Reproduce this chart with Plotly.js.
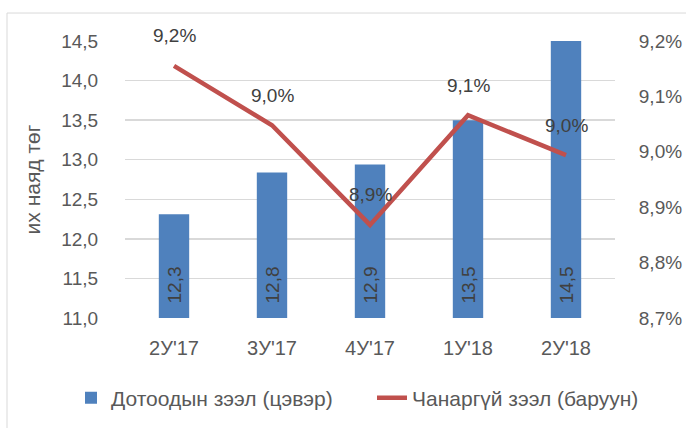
<!DOCTYPE html>
<html>
<head>
<meta charset="utf-8">
<script src="https://cdn.plot.ly/plotly-3.0.1.min.js"></script>
<style>html,body{margin:0;padding:0;background:#fff}#chart{width:686px;height:428px}</style>
</head>
<body>
<div id="chart"></div>
<script>
const categories = ["2У'17", "3У'17", "4У'17", "1У'18", "2У'18"];
const loans = [12.31, 12.84, 12.94, 13.5, 14.5];
const nplRate = [9.155, 9.048, 8.868, 9.066, 8.994];
const leftTicks = [11.0, 11.5, 12.0, 12.5, 13.0, 13.5, 14.0, 14.5];
const rightTicks = [8.7, 8.8, 8.9, 9.0, 9.1, 9.2];
const seriesNames = ["Дотоодын зээл (цэвэр)", "Чанаргүй зээл (баруун)"];
const yTitle = "их наяд төг";

const FONT = '"Liberation Sans", Arial, sans-serif';
const fmt = v => v.toFixed(1).replace('.', ',');

const traces = [
  {
    type: 'bar', x: categories, y: loans, name: seriesNames[0], legend: 'legend',
    marker: {color: '#4F81BD'}, hoverinfo: 'skip'
  },
  {
    type: 'scatter', mode: 'lines', x: categories, y: nplRate, yaxis: 'y2', legend: 'legend2',
    name: seriesNames[1], line: {color: '#C0504D', width: 4.5}, hoverinfo: 'skip'
  }
];

const lineLabels = categories.map((c, i) => ({
  x: c, y: nplRate[i], xref: 'x', yref: 'y2', text: fmt(nplRate[i]) + '%',
  showarrow: false, yshift: 30, font: {family: FONT, size: 19, color: '#404040'}
}));
const barLabels = categories.map((c, i) => ({
  x: c, y: 11, xref: 'x', yref: 'y', text: fmt(loans[i]),
  showarrow: false, textangle: -90, yanchor: 'bottom', xanchor: 'center', yshift: 12,
  font: {family: FONT, size: 19, color: '#404040'}
}));

const legendCommon = {
  orientation: 'h', xref: 'container', yref: 'container', xanchor: 'left',
  y: 0.07, yanchor: 'middle', bgcolor: 'rgba(0,0,0,0)',
  font: {family: FONT, size: 21, color: '#595959'}
};

const layout = {
  width: 686, height: 428,
  margin: {l: 125, r: 71, t: 41, b: 110},
  paper_bgcolor: '#fff', plot_bgcolor: '#fff',
  separators: ', ',
  font: {family: FONT, size: 19, color: '#595959'},
  showlegend: true,
  bargap: 0.69,
  xaxis: {
    type: 'category', showgrid: false, showline: false, zeroline: false,
    ticks: 'outside', ticklen: 12, tickcolor: 'rgba(0,0,0,0)',
    tickfont: {family: FONT, size: 20, color: '#595959'}
  },
  yaxis: {
    range: [11, 14.5], tickvals: leftTicks, ticktext: leftTicks.map(fmt),
    showgrid: true, gridcolor: '#D9D9D9', gridwidth: 1.5, zeroline: false, showline: false,
    ticks: 'outside', ticklen: 22, tickcolor: 'rgba(0,0,0,0)',
    tickfont: {family: FONT, size: 19, color: '#595959'},
    title: {text: yTitle, font: {family: FONT, size: 21, color: '#595959'}, standoff: 14}
  },
  yaxis2: {
    overlaying: 'y', side: 'right', range: [8.7, 9.2],
    tickvals: rightTicks, ticktext: rightTicks.map(v => fmt(v) + '%'),
    showgrid: false, zeroline: false, showline: false,
    ticks: 'outside', ticklen: 19, tickcolor: 'rgba(0,0,0,0)',
    tickfont: {family: FONT, size: 19, color: '#595959'}
  },
  legend: Object.assign({}, legendCommon, {x: 71 / 686}),
  legend2: Object.assign({}, legendCommon, {x: 372 / 686}),
  annotations: lineLabels.concat(barLabels),
  shapes: [{
    type: 'rect', xref: 'paper', yref: 'paper',
    x0: -0.2408, x1: 1.2, y0: -0.5, y1: 1.101,
    line: {color: '#D9D9D9', width: 1}, fillcolor: 'rgba(0,0,0,0)', layer: 'below'
  }]
};

Plotly.newPlot('chart', traces, layout, {displayModeBar: false, staticPlot: true});
</script>
</body>
</html>
